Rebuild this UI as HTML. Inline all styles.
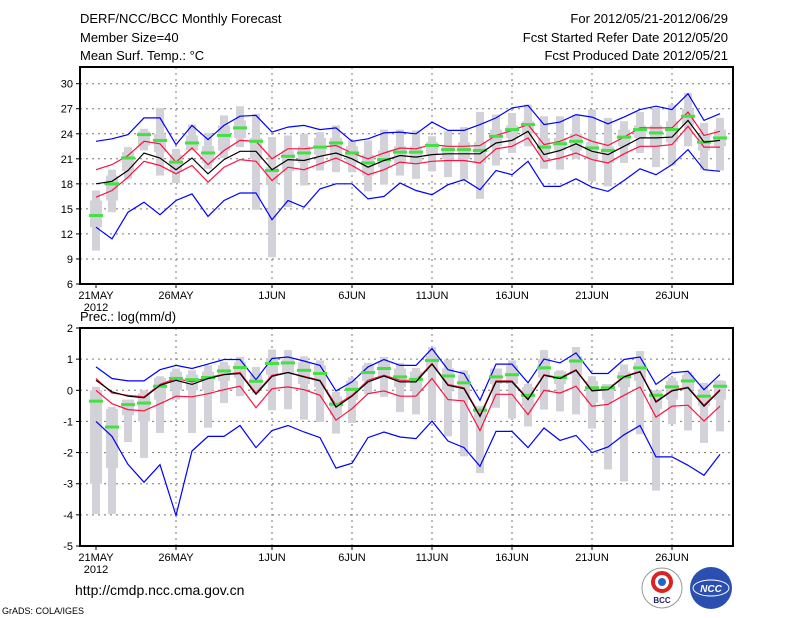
<!DOCTYPE html>
<html><head><meta charset="utf-8"><style>
body{margin:0;background:#fff;}
svg{display:block;font-family:"Liberation Sans",sans-serif;}
</style></head><body>
<svg id="c" width="800" height="618" viewBox="0 0 800 618">
<text x="80" y="23" font-size="13">DERF/NCC/BCC Monthly Forecast</text>
<text x="80" y="42" font-size="13">Member Size=40</text>
<text x="80" y="60" font-size="13">Mean Surf. Temp.: °C</text>
<text x="728" y="23" font-size="13" text-anchor="end">For 2012/05/21-2012/06/29</text>
<text x="728" y="42" font-size="13" text-anchor="end">Fcst Started Refer Date 2012/05/20</text>
<text x="728" y="60" font-size="13" text-anchor="end">Fcst Produced Date 2012/05/21</text>
<text x="80" y="321" font-size="13">Prec.: log(mm/d)</text>
<text x="75" y="595" font-size="14">http://cmdp.ncc.cma.gov.cn</text>
<text x="2" y="614" font-size="9">GrADS: COLA/IGES</text>
<g>
<circle cx="662" cy="588" r="20" fill="#fff" stroke="#999"/>
<circle cx="662" cy="582" r="9" fill="none" stroke="#d22" stroke-width="4"/>
<circle cx="662" cy="582" r="4" fill="#26c"/>
<text x="662" y="603" font-size="8" font-weight="bold" fill="#226" text-anchor="middle">BCC</text>
</g>
<g>
<circle cx="711" cy="588" r="21" fill="#2a4fb0"/>
<ellipse cx="711" cy="588" rx="18" ry="8" fill="none" stroke="#fff" stroke-width="1"/>
<text x="711" y="592" font-size="10" font-weight="bold" font-style="italic" fill="#fff" text-anchor="middle">NCC</text>
</g>
</svg>
<script>
const days=["21MAY","26MAY","1JUN","6JUN","11JUN","16JUN","21JUN","26JUN"];
const dayIdx=[0,5,11,16,21,26,31,36];
// temperature
const tMean=[18.0,18.3,19.6,21.7,21.1,19.7,21.1,19.2,20.9,21.9,21.9,19.7,20.9,20.8,21.3,21.7,21.0,20.0,20.8,21.4,21.2,21.5,21.6,21.6,21.6,22.9,23.2,24.3,21.5,22.0,22.8,21.9,21.5,22.5,23.5,23.5,23.6,25.6,23.0,23.2];
const tUp=[19.7,20.3,21.4,23.1,22.8,20.6,22.3,20.3,22.0,23.2,23.1,21.0,22.2,22.2,22.4,22.6,21.7,21.0,21.7,22.3,22.2,22.7,22.5,22.5,22.6,23.8,24.4,25.1,22.7,23.1,23.9,23.1,22.6,23.6,24.7,24.7,24.7,26.6,23.8,24.3];
const tLo=[16.4,17.2,18.8,20.7,20.2,19.2,20.2,18.2,20.0,20.9,20.7,18.4,20.0,19.7,20.4,21.1,20.2,19.1,19.7,20.6,20.4,20.7,20.8,20.8,20.5,22.2,22.5,23.5,20.7,21.1,21.7,20.9,20.5,21.6,22.5,22.5,22.7,24.9,22.4,22.4];
const tMax=[23.1,23.4,23.9,25.9,25.9,22.7,25.0,23.3,25.0,26.1,26.2,24.2,24.8,25.0,24.5,24.7,23.1,23.4,24.1,24.2,24.0,25.4,24.4,24.4,25.1,25.9,27.1,27.4,25.1,25.4,26.3,26.0,25.2,26.0,26.9,27.3,26.9,28.8,25.6,26.4];
const tMin=[12.8,11.4,14.6,15.8,14.3,16.0,16.8,14.1,16.0,16.9,16.9,13.7,16.0,15.2,17.4,18.0,18.0,16.2,16.5,18.1,17.2,16.7,17.9,18.5,17.3,19.6,19.1,20.7,17.7,17.7,18.6,17.6,17.1,18.4,19.8,19.1,20.3,22.1,19.7,19.5];
const tMed=[14.2,18.0,21.1,23.9,23.2,20.6,22.9,21.7,23.8,24.7,23.1,19.6,21.3,21.7,22.4,22.9,21.7,20.5,20.9,21.8,21.8,22.6,22.1,22.1,22.0,23.7,24.5,25.1,22.4,22.8,23.1,22.3,22.0,23.6,24.5,24.1,24.5,26.1,23.0,23.5];
const tWhiHi=[17.2,19.7,22.4,24.6,27.1,22.2,25.1,24.1,26.2,27.3,26.4,23.6,23.8,24.0,24.2,25.0,23.2,23.2,24.5,24.5,24.4,23.7,24.3,24.8,26.6,26.3,26.5,27.5,26.1,26.1,26.3,26.9,25.9,25.5,26.6,27.1,27.5,28.9,25.3,25.9];
const tWhiLo=[10.0,14.6,18.6,22.0,19.0,18.1,22.4,19.8,21.1,22.4,14.9,9.2,15.2,17.8,19.6,19.4,19.4,17.1,17.9,19.0,18.6,19.5,18.8,18.5,16.2,20.2,21.7,22.5,19.8,19.7,21.0,18.3,17.7,20.5,21.7,20.0,20.2,22.5,19.7,19.6];
const tBoxHi=[16.0,19.0,21.8,24.3,24.0,21.5,23.8,22.5,25.0,25.6,23.5,20.0,22.0,22.5,23.5,23.5,22.5,21.5,22.0,22.5,22.5,23.0,22.5,23.0,23.0,24.5,25.0,25.5,23.5,23.5,24.0,23.0,22.5,24.5,25.0,25.0,25.5,27.0,23.8,24.5];
const tBoxLo=[12.8,16.0,19.5,22.6,21.8,19.5,22.0,20.5,22.0,23.5,21.0,18.0,19.5,20.5,21.5,21.0,20.5,19.0,20.0,20.5,20.5,21.5,21.0,21.0,20.5,22.5,23.5,24.0,21.5,22.0,22.0,21.0,20.5,22.5,23.5,22.5,23.0,25.0,22.0,22.5];
const tTicks=[6,9,12,15,18,21,24,27,30];
// precipitation
const pMean=[0.32,-0.05,-0.19,-0.24,0.16,0.32,0.19,0.38,0.5,0.54,-0.13,0.45,0.57,0.43,0.3,-0.54,-0.19,0.27,0.46,0.27,0.27,0.84,0.16,0.05,-0.84,0.27,0.27,-0.3,0.48,0.38,0.64,-0.02,0.02,0.43,0.59,-0.38,-0.02,0.08,-0.51,0];
const pUp=[0.38,-0.09,-0.16,-0.21,0.19,0.38,0.27,0.41,0.51,0.57,-0.09,0.48,0.57,0.45,0.32,-0.48,-0.16,0.32,0.48,0.32,0.32,0.86,0.19,0.08,-0.8,0.3,0.3,-0.27,0.5,0.4,0.66,0,0.04,0.45,0.61,-0.35,0,0.1,-0.48,0.02];
const pLo=[0,-0.43,-0.62,-0.66,-0.43,-0.19,-0.21,-0.11,0.02,0.13,-0.56,0.05,0.11,0.02,-0.16,-0.96,-0.59,-0.11,-0.02,-0.19,-0.19,0.38,-0.3,-0.34,-1.29,-0.13,-0.13,-0.78,0,-0.09,0.13,-0.51,-0.45,-0.16,0.11,-0.86,-0.51,-0.48,-0.99,-0.51];
const pMax=[0.75,0.38,0.3,0.3,0.66,0.8,0.7,0.84,0.99,0.99,0.34,1.02,1.07,0.94,0.8,-0.02,0.27,0.75,0.99,0.8,0.8,1.34,0.66,0.54,-0.32,0.84,0.84,0.24,1.0,0.88,1.2,0.54,0.54,0.99,1.07,0.19,0.56,0.61,0.02,0.51];
const pMin=[-1.0,-1.48,-2.38,-2.95,-2.39,-4.02,-1.95,-1.48,-1.48,-1.13,-1.84,-1.29,-1.13,-1.34,-1.52,-2.5,-2.34,-1.52,-1.34,-1.5,-1.55,-0.99,-1.63,-1.84,-2.44,-1.32,-1.32,-1.84,-1.21,-1.61,-1.45,-2.0,-1.82,-1.43,-1.13,-2.14,-2.14,-2.41,-2.73,-2.06];
const pMed=[-0.35,-1.18,-0.46,-0.41,0.13,0.38,0.34,0.41,0.62,0.73,0.29,0.86,0.88,0.64,0.54,-0.45,0.03,0.57,0.7,0.43,0.35,0.96,0.46,0.24,-0.64,0.43,0.5,-0.16,0.72,0.41,0.94,0.08,0.08,0.43,0.72,-0.16,0.11,0.3,-0.19,0.13];
const pWhiHi=[0.11,-0.54,-0.32,0,0.45,0.7,0.64,0.8,0.91,1.07,0.75,1.31,1.29,1.09,0.96,-0.05,0.41,0.88,1.07,0.88,0.72,1.39,0.99,0.64,-0.59,0.48,0.96,0.21,1.29,0.64,1.39,0.45,0.18,0.83,1.26,-0.09,0.41,0.59,0.24,0.32];
const pWhiLo=[-3.97,-3.97,-1.66,-2.17,-1.37,-0.3,-1.37,-1.2,-0.41,-0.19,-0.09,-0.64,-0.61,-0.94,-1.02,-1.39,-1.05,-0.13,-0.21,-0.7,-0.77,-0.96,-1.48,-2.12,-2.66,-0.56,-0.91,-1.16,-0.62,-0.68,-0.77,-1.23,-2.54,-2.93,-1.41,-3.22,-1.09,-1.29,-1.69,-1.32];
const pBoxHi=[0,-0.6,-0.3,-0.1,0.4,0.6,0.5,0.6,0.8,0.9,0.5,1.0,1.0,0.9,0.8,-0.2,0.3,0.8,0.9,0.7,0.6,1.1,0.7,0.5,-0.5,0.7,0.8,0.1,1.0,0.6,1.1,0.3,0.2,0.6,0.9,0,0.3,0.5,0,0.3];
const pBoxLo=[-3,-2.5,-0.8,-1.0,-0.3,0,0,0,0.3,0.4,0,0.5,0.5,0.2,0.1,-0.8,-0.3,0.3,0.4,0.1,0,0.6,0,-0.3,-1.0,0.2,0.2,-0.5,0.4,0.2,0.5,-0.4,-0.3,0.1,0.3,-0.6,-0.3,0,-0.5,-0.3];
const pTicks=[-5,-4,-3,-2,-1,0,1,2];

const svg=document.getElementById('c');
const NS='http://www.w3.org/2000/svg';
const X0=80,X1=733;
function xd(d){return 96+16*d;}
function mk(tag,attrs){const e=document.createElementNS(NS,tag);for(const k in attrs)e.setAttribute(k,attrs[k]);svg.appendChild(e);return e;}

function panel(name,top,bot,vmin,vmax,ticks,S){
  const y=v=>bot-(v-vmin)*(bot-top)/(vmax-vmin);
  // grid
  ticks.forEach(t=>{
    if(t>vmin&&t<vmax){const g=mk('line',{x1:X0,x2:X1,y1:y(t),y2:y(t),stroke:'#777','stroke-dasharray':'2,4','stroke-width':1});
    
    }
    const tl=mk('text',{x:73,y:y(t)+4,'font-size':11,'text-anchor':'end'});tl.textContent=t;
    
    
    const tk=mk('line',{x1:X0-4,x2:X0,y1:y(t),y2:y(t),stroke:'#000'});
    
    
  });
  dayIdx.forEach((d,i)=>{
    if(i>0){const g=mk('line',{x1:xd(d),x2:xd(d),y1:top,y2:bot,stroke:'#777','stroke-dasharray':'2,4'});
    
    }
    const tk=mk('line',{x1:xd(d),x2:xd(d),y1:bot,y2:bot+4,stroke:'#000'});
    
    
    const tl=mk('text',{x:xd(d),y:bot+15,'font-size':11,'text-anchor':'middle'});tl.textContent=days[i];
    
    
  });
  const yr=mk('text',{x:96,y:bot+27,'font-size':11,'text-anchor':'middle'});yr.textContent='2012';
  
  
  // gray boxes
  S.wHi.forEach((v,d)=>{
    const w=mk('rect',{x:xd(d)-4,y:y(v),width:8,height:y(S.wLo[d])-y(v),fill:'#d2d2d8'});
    
    
    const b=mk('rect',{x:xd(d)-6,y:y(S.bHi[d]),width:12,height:y(S.bLo[d])-y(S.bHi[d]),fill:'#d2d2d8'});
    
    
  });
  const line=(arr,col,nm)=>{const p=mk('polyline',{points:arr.map((v,d)=>xd(d)+','+y(v).toFixed(1)).join(' '),fill:'none',stroke:col,'stroke-width':1.2});
    
    };
  line(S.max,'#0000ff','max-line');line(S.min,'#0000ff','min-line');
  line(S.up,'#ff1040','upper-line');line(S.lo,'#ff1040','lower-line');
  S.med.forEach((v,d)=>{const g=mk('rect',{x:xd(d)-7,y:y(v)-1.5,width:14,height:3,fill:'#44e044'});
    
    });
  line(S.mean,'#000','mean-line');
  const f=mk('rect',{x:X0,y:top,width:X1-X0,height:bot-top,fill:'none',stroke:'#000','stroke-width':2});
  
  
}
panel('temp',67,284,6,32,tTicks,{mean:tMean,up:tUp,lo:tLo,max:tMax,min:tMin,med:tMed,wHi:tWhiHi,wLo:tWhiLo,bHi:tBoxHi,bLo:tBoxLo});
panel('prec',328,546,-5,2,pTicks,{mean:pMean,up:pUp,lo:pLo,max:pMax,min:pMin,med:pMed,wHi:pWhiHi,wLo:pWhiLo,bHi:pBoxHi,bLo:pBoxLo});
</script>
</body></html>
